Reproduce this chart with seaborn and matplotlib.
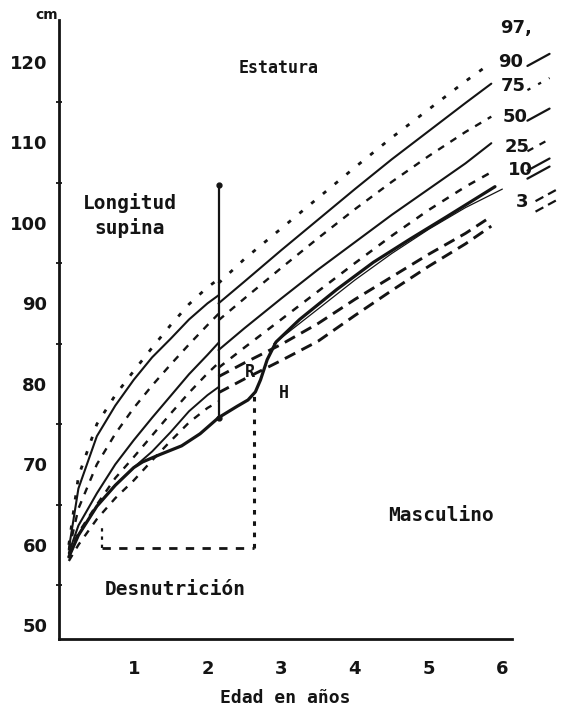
import numpy as np
import pandas as pd
import matplotlib
matplotlib.use('Agg')
import matplotlib.pyplot as plt
import seaborn as sns

# --- data (age in years, height in cm) ---
# "Longitud supina" part, up to the line at ~2 years
len_age = [0.12, 0.25, 0.5, 0.75, 1.0, 1.25, 1.5, 1.75, 2.0, 2.15]
len_p97 = [60.0, 68.5, 75.0, 78.6, 81.6, 84.5, 87.3, 89.9, 92.0, 93.0]
len_p90 = [59.5, 67.0, 73.5, 77.3, 80.5, 83.3, 85.6, 88.0, 90.0, 91.0]
len_p75 = [59.3, 64.5, 70.0, 73.8, 77.0, 79.8, 82.4, 84.9, 87.3, 88.7]
len_p50 = [59.0, 62.4, 66.4, 70.0, 73.0, 75.8, 78.5, 81.2, 83.6, 85.1]
len_p25 = [58.8, 61.5, 65.0, 68.3, 70.9, 73.6, 76.3, 78.9, 81.3, 82.6]
len_p10 = [58.5, 61.2, 64.8, 67.4, 69.6, 71.6, 74.0, 76.6, 78.6, 79.6]
len_p3 = [58.0, 60.0, 63.2, 65.8, 68.0, 70.5, 72.9, 75.2, 77.0, 77.8]

# "Estatura" part (standing height)
std_age = [2.15, 2.5, 3.0, 3.5, 4.0, 4.5, 5.0, 5.5, 5.85]
std_p97 = [92.5, 95.5, 99.3, 103.1, 106.9, 110.6, 114.1, 117.6, 119.9]
std_p90 = [90.0, 92.7, 96.6, 100.4, 104.2, 107.9, 111.4, 114.9, 117.3]
std_p75 = [87.9, 90.6, 94.4, 98.1, 101.7, 105.1, 108.3, 111.3, 113.2]
std_p50 = [84.2, 86.9, 90.6, 94.2, 97.6, 101.0, 104.2, 107.4, 109.9]
std_p25 = [82.0, 84.5, 88.0, 91.5, 95.0, 98.4, 101.6, 104.5, 106.3]
std_p3a = [80.9, 82.6, 84.9, 87.5, 90.5, 93.3, 96.1, 98.7, 100.8]
std_p3b = [78.9, 80.6, 82.9, 85.3, 88.5, 91.6, 94.6, 97.4, 99.6]
p10_age = [2.9, 3.5, 4.0, 4.5, 5.0, 5.5, 6.0]
std_p10 = [85.0, 89.3, 92.9, 96.2, 99.2, 101.9, 104.2]

# the child's own curve (desnutrición, then recuperación)
pat_age = [0.12, 0.25, 0.5, 0.75, 1.0, 1.12, 1.35, 1.65, 1.9, 2.15, 2.4, 2.55,
           2.65, 2.72, 2.81, 2.93, 3.25, 3.75, 4.25, 4.75, 5.25, 5.9]
pat_cm = [58.5, 61.2, 64.8, 67.4, 69.6, 70.3, 71.2, 72.3, 73.8, 75.8, 77.2, 78.0,
          79.0, 80.5, 83.0, 85.2, 88.0, 91.7, 95.1, 98.0, 100.8, 104.5]

# supine/standing divider and the malnutrition box
split_age = 2.15
split_cm = [75.8, 104.7]
desn_age = [0.57, 2.63]
desn_cm = [59.6, 62.5, 78.7]   # floor, left end, right end

# percentile labels at the right edge
pct_labels = ['97,', '90', '75', '50', '25', '10', '3']
pct_x = [5.97, 5.94, 5.98, 6.01, 6.03, 6.07, 6.18]
pct_y = [124.2, 120.0, 117.0, 113.2, 109.4, 106.6, 102.6]

ink = '#141414'
dotted = (0, (1.5, 4.0))
dashed = (0, (3.0, 3.2))
dashed3 = (0, (4.0, 2.4))

sns.set_theme(style='white')
plt.rcParams['font.family'] = ['DejaVu Sans']

fig = plt.figure(figsize=(5.67, 7.09), dpi=100)
ax = fig.add_axes([0.1032, 0.0987, 0.7997, 0.873])

def curve(x, y, ls, lw):
    sns.lineplot(x=x, y=y, ax=ax, color=ink, linestyle=ls, linewidth=lw,
                 estimator=None, sort=False)

curve(len_age, len_p97, dotted, 2.0)
curve(len_age, len_p90, '-', 1.5)
curve(len_age, len_p75, dashed, 1.7)
curve(len_age, len_p50, '-', 1.5)
curve(len_age, len_p25, dashed, 1.7)
curve(len_age, len_p10, '-', 1.4)
curve(len_age, len_p3, dashed, 1.7)

curve(std_age, std_p97, dotted, 2.0)
curve(std_age, std_p90, '-', 1.5)
curve(std_age, std_p75, dashed, 1.7)
curve(std_age, std_p50, '-', 1.5)
curve(std_age, std_p25, dashed, 1.8)
curve(p10_age, std_p10, '-', 0.9)
curve(std_age, std_p3a, dashed3, 2.1)
curve(std_age, std_p3b, dashed3, 2.1)

curve(pat_age, pat_cm, '-', 2.3)

# supine length divider
ax.vlines(split_age, split_cm[0], split_cm[1], color=ink, lw=1.6)
ax.plot([split_age, split_age], split_cm, 'o', color=ink, ms=3.5)

# malnutrition period
ax.hlines(desn_cm[0], desn_age[0], desn_age[1], color=ink, lw=2.0,
          linestyle=(0, (3, 3)))
ax.vlines(desn_age[1], desn_cm[0], desn_cm[2], color=ink, lw=2.2,
          linestyle=(0, (1.5, 2.2)))
ax.vlines(desn_age[0], desn_cm[0], desn_cm[1], color=ink, lw=1.6,
          linestyle=(0, (1.5, 2.2)))

# percentile labels with little line keys
key_style = [None, '-', dotted, '-', dashed, '-', dashed3]
for i, lab in enumerate(pct_labels):
    ax.text(pct_x[i], pct_y[i], lab, ha='left', va='center', fontsize=13,
            fontweight='bold', color=ink, clip_on=False)
    if key_style[i] is None:
        continue
    x0 = 6.45 if lab == '3' else 6.34
    offs = [0.0]
    if lab == '10':
        offs = [0.4, -0.6]
    if lab == '3':
        offs = [0.6, -0.7]
    for o in offs:
        ax.plot([x0, x0 + 0.3], [pct_y[i] - 0.5 + o, pct_y[i] + 1.0 + o],
                color=ink, lw=1.6, linestyle=key_style[i], clip_on=False)

mono = 'DejaVu Sans Mono'
ax.text(2.96, 119.3, 'Estatura', ha='center', va='center', fontsize=12,
        fontweight='bold', family=mono, color=ink)
ax.text(0.95, 100.9, 'Longitud\nsupina', ha='center', va='center', fontsize=14,
        fontweight='bold', family=mono, color=ink, linespacing=1.35)
ax.text(5.17, 63.7, 'Masculino', ha='center', va='center', fontsize=14,
        fontweight='bold', family=mono, color=ink)
ax.text(1.57, 54.4, 'Desnutrición', ha='center', va='center', fontsize=14,
        fontweight='bold', family=mono, color=ink)
ax.text(2.58, 81.5, 'R', ha='center', va='center', fontsize=12,
        fontweight='bold', family=mono, color=ink)
ax.text(3.03, 78.9, 'H', ha='center', va='center', fontsize=12,
        fontweight='bold', family=mono, color=ink)

# axes
ax.set_xlim(-0.02, 6.13)
ax.set_ylim(48.3, 125.2)
ax.set_xticks([1, 2, 3, 4, 5, 6])
ax.set_yticks(np.arange(50, 121, 10))
ax.set_yticks(np.arange(55, 120, 10), minor=True)
ax.tick_params(axis='both', which='major', direction='inout', length=6,
               width=1.5, color=ink, labelsize=13, labelcolor=ink)
ax.tick_params(axis='x', pad=12)
ax.tick_params(axis='y', pad=5)
ax.tick_params(axis='y', which='minor', direction='inout', length=4,
               width=1.3, color=ink, left=True)
for t in ax.get_xticklabels() + ax.get_yticklabels():
    t.set_fontweight('bold')
sns.despine(ax=ax)
for s in ['left', 'bottom']:
    ax.spines[s].set_linewidth(2.0)
    ax.spines[s].set_color(ink)
ax.set_xlabel('Edad en años', fontsize=13, fontweight='bold', family=mono,
              color=ink, labelpad=8)
ax.set_ylabel('')
fig.text(47 / 567, 1 - 15 / 709, 'cm', ha='center', va='center', fontsize=10,
         fontweight='bold', color=ink)

fig.savefig('out.png', dpi=100, facecolor='white')
